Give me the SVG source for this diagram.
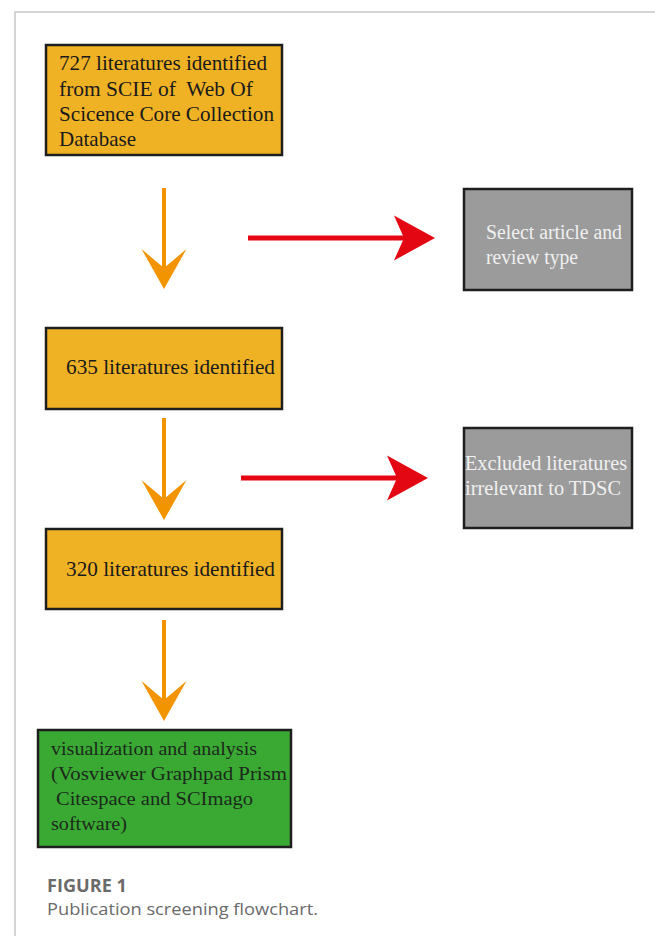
<svg xmlns="http://www.w3.org/2000/svg" width="655" height="936" viewBox="0 0 655 936">
<style>
.frame{stroke:#c8c8c8;stroke-width:1.5;fill:none}
.box{stroke:#1e1e1e;stroke-width:2.5}
.orange{fill:#F0B225}
.gray{fill:#9b9b9b}
.green{fill:#3aa934}
.t{font-family:"Liberation Serif","Times New Roman",serif;font-size:22px;fill:#1a1a1a}
.tg{font-family:"Liberation Serif","Times New Roman",serif;font-size:20px;fill:#f0f0f0}
.tv{font-family:"Liberation Serif","Times New Roman",serif;font-size:19px;fill:#1b2a1b}
.oa{stroke:#F29400;stroke-width:4;fill:none}
.ra{stroke:#E30613;stroke-width:5;fill:none}
.cap{font-family:"Open Sans","Liberation Sans",sans-serif;fill:#6a6a6a}
</style>
<defs>
<marker id="headO" markerUnits="userSpaceOnUse" markerWidth="42" markerHeight="46" viewBox="0 -23 42 46" refX="19" refY="0" orient="auto">
<path d="M0,-22.5 L40,0 L0,22.5 L19,0 Z" fill="#F29400"/>
</marker>
<marker id="headR" markerUnits="userSpaceOnUse" markerWidth="42" markerHeight="46" viewBox="0 -23 42 46" refX="10" refY="0" orient="auto">
<path d="M0,-22.5 L41,0 L0,22.5 L10,0 Z" fill="#E30613"/>
</marker>
</defs>
<path class="frame" d="M655,12 H15 V936"/>
<g id="n1">
<rect class="box orange" x="46" y="45" width="236" height="110"/>
<text class="t" x="59" y="70" textLength="208" lengthAdjust="spacingAndGlyphs">727 literatures identified</text>
<text class="t" x="59" y="96" textLength="194" lengthAdjust="spacingAndGlyphs" xml:space="preserve">from SCIE of  Web Of</text>
<text class="t" x="59" y="121" textLength="215" lengthAdjust="spacingAndGlyphs">Scicence Core Collection</text>
<text class="t" x="59" y="146" textLength="77" lengthAdjust="spacingAndGlyphs">Database</text>
</g>
<g id="n2">
<rect class="box gray" x="464" y="189" width="168" height="101"/>
<text class="tg" x="486" y="239" textLength="136" lengthAdjust="spacingAndGlyphs">Select article and</text>
<text class="tg" x="486" y="264" textLength="92" lengthAdjust="spacingAndGlyphs">review type</text>
</g>
<g id="n3">
<rect class="box orange" x="46" y="328" width="236" height="81"/>
<text class="t" x="66" y="374" textLength="209" lengthAdjust="spacingAndGlyphs">635 literatures identified</text>
</g>
<g id="n4">
<rect class="box gray" x="464" y="428" width="168" height="100"/>
<text class="tg" x="465" y="470" textLength="162" lengthAdjust="spacingAndGlyphs">Excluded literatures</text>
<text class="tg" x="465" y="495" textLength="156" lengthAdjust="spacingAndGlyphs">irrelevant to TDSC</text>
</g>
<g id="n5">
<rect class="box orange" x="46" y="529" width="236" height="80"/>
<text class="t" x="66" y="576" textLength="209" lengthAdjust="spacingAndGlyphs">320 literatures identified</text>
</g>
<g id="n6">
<rect class="box green" x="38" y="730" width="253" height="117"/>
<text class="tv" x="51" y="755" textLength="206" lengthAdjust="spacingAndGlyphs">visualization and analysis</text>
<text class="tv" x="51" y="780" textLength="236" lengthAdjust="spacingAndGlyphs">(Vosviewer Graphpad Prism</text>
<text class="tv" x="56" y="805" textLength="197" lengthAdjust="spacingAndGlyphs">Citespace and SCImago</text>
<text class="tv" x="51" y="830" textLength="76" lengthAdjust="spacingAndGlyphs">software)</text>
</g>
<g id="connectors">
<line class="oa" x1="164" y1="188" x2="164" y2="268" marker-end="url(#headO)"/>
<line class="ra" x1="248" y1="238" x2="404" y2="238" marker-end="url(#headR)"/>
<line class="oa" x1="164" y1="418" x2="164" y2="499" marker-end="url(#headO)"/>
<line class="ra" x1="241" y1="478" x2="397" y2="478" marker-end="url(#headR)"/>
<line class="oa" x1="164" y1="620" x2="164" y2="700" marker-end="url(#headO)"/>
</g>
<g id="caption">
<text class="cap" x="47" y="892" font-size="18" font-weight="bold" textLength="80" lengthAdjust="spacingAndGlyphs">FIGURE 1</text>
<text class="cap" x="47" y="915" font-size="17" textLength="271" lengthAdjust="spacingAndGlyphs">Publication screening flowchart.</text>
</g>
</svg>
